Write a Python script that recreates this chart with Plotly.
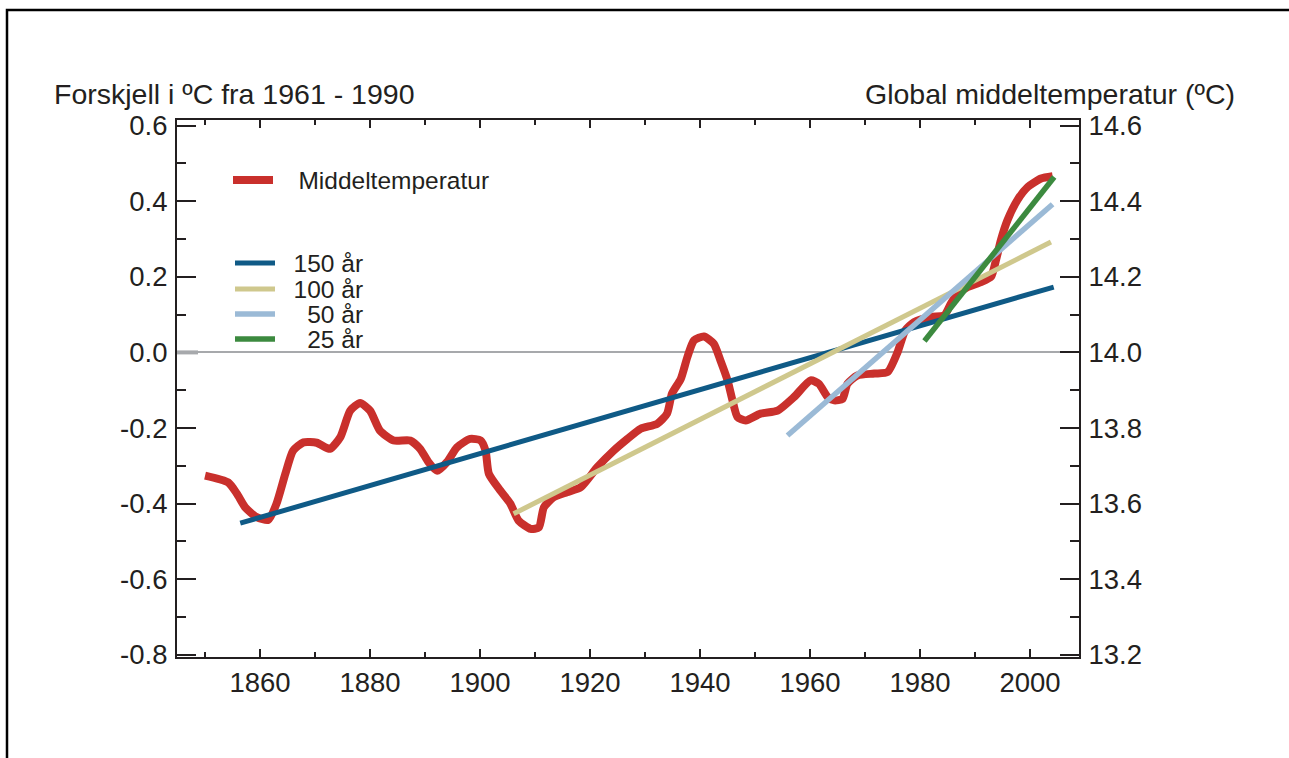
import plotly.graph_objects as go

# ---- data ----
years = [1850.0, 1854.2, 1855.8, 1857.3, 1859.4, 1861.5, 1863.0, 1864.6, 1866.0, 1867.9,
         1870.3, 1872.7, 1874.6, 1876.4, 1878.2, 1880.0, 1881.8, 1884.3, 1887.3, 1889.1,
         1890.6, 1892.2, 1894.0, 1895.8, 1898.2, 1900.1, 1901.0, 1901.6, 1903.7, 1905.5,
         1907.0, 1909.2, 1910.7, 1911.6, 1913.4, 1915.8, 1918.3, 1921.3, 1924.3, 1926.8,
         1929.2, 1932.2, 1934.0, 1934.9, 1936.5, 1937.7, 1938.9, 1940.7, 1942.5, 1943.7,
         1945.0, 1945.9, 1946.8, 1948.3, 1951.0, 1954.1, 1957.1, 1960.1, 1961.6, 1963.2,
         1964.4, 1965.9, 1966.8, 1968.6, 1971.7, 1974.1, 1975.9, 1977.3, 1978.9, 1982.0,
         1984.4, 1985.6, 1986.8, 1988.7, 1991.1, 1992.9, 1993.8, 1994.7, 1995.9, 1997.7,
         1999.6, 2002.0, 2004.1]
anomaly = [-0.326, -0.344, -0.374, -0.410, -0.436, -0.443, -0.400, -0.321, -0.260, -0.238,
           -0.239, -0.255, -0.224, -0.154, -0.134, -0.154, -0.207, -0.233, -0.233, -0.255,
           -0.290, -0.313, -0.290, -0.251, -0.229, -0.233, -0.260, -0.321, -0.366, -0.400,
           -0.445, -0.467, -0.463, -0.410, -0.383, -0.370, -0.357, -0.304, -0.260, -0.229,
           -0.202, -0.189, -0.162, -0.109, -0.070, -0.012, 0.032, 0.042, 0.023, -0.021,
           -0.074, -0.127, -0.171, -0.180, -0.162, -0.154, -0.118, -0.074, -0.083, -0.118,
           -0.127, -0.123, -0.083, -0.061, -0.056, -0.052, 0.000, 0.058, 0.080, 0.094,
           0.098, 0.129, 0.155, 0.173, 0.186, 0.200, 0.244, 0.297, 0.350, 0.403,
           0.438, 0.460, 0.466]

trend_names = ["150 år", "100 år", "50 år", "25 år"]
trend_years = [[1856.4, 2004.3], [1906.1, 2003.8], [1955.9, 2004.1], [1980.8, 2004.4]]
trend_values = [[-0.452, 0.173], [-0.427, 0.292], [-0.220, 0.392], [0.030, 0.464]]

baseline_temp = 14.0  # global mean temperature (°C) corresponding to anomaly 0

x_tickvals = [1860, 1880, 1900, 1920, 1940, 1960, 1980, 2000]
x_ticktext = ["1860", "1880", "1900", "1920", "1940", "1960", "1980", "2000"]
y_tickvals = [-0.8, -0.6, -0.4, -0.2, 0.0, 0.2, 0.4, 0.6]
y_ticktext = ["-0.8", "-0.6", "-0.4", "-0.2", "0.0", "0.2", "0.4", "0.6"]
y2_tickvals = [13.2, 13.4, 13.6, 13.8, 14.0, 14.2, 14.4, 14.6]
y2_ticktext = ["13.2", "13.4", "13.6", "13.8", "14.0", "14.2", "14.4", "14.6"]

left_title = "Forskjell i ºC fra 1961 - 1990"
right_title = "Global middeltemperatur (ºC)"
series_name = "Middeltemperatur"

# ---- styles ----
FONT = "Liberation Sans, Arial, sans-serif"
INK = "#231f20"
red = "#c9302c"
trend_colors = ["#0f5a86", "#cfc88d", "#9bbad6", "#3c8a3f"]
trend_widths = [5, 5, 5.5, 5.5]
NB = "\u00a0"
legend_pad = [2, 2, 4, 4]

x_range = [1844.9, 2008.9]
y_range = [-0.806, 0.615]

fig = go.Figure()

fig.add_trace(go.Scatter(
    x=years, y=anomaly, mode="lines", name=NB * 3 + series_name,
    line=dict(color=red, width=8, shape="spline", smoothing=0.6),
    legend="legend", hoverinfo="skip"))

legend_ids = ["legend2", "legend3", "legend4", "legend5"]
for i in range(4):
    fig.add_trace(go.Scatter(
        x=trend_years[i], y=trend_values[i], mode="lines",
        name=NB * legend_pad[i] + trend_names[i],
        line=dict(color=trend_colors[i], width=trend_widths[i]),
        legend=legend_ids[i], hoverinfo="skip"))

# invisible trace to activate right axis
fig.add_trace(go.Scatter(x=[None], y=[None], yaxis="y2", showlegend=False, hoverinfo="skip"))

L, R, T, B = 177, 210, 120, 101
W, H = 1289, 758
pw, ph = W - L - R, H - T - B

def px_x(p):
    return (p - L) / pw

def px_y(p):
    return (H - B - p) / ph

legend_common = dict(font=dict(family=FONT, size=24.5, color=INK), bgcolor="rgba(0,0,0,0)",
                     borderwidth=0, xanchor="left", yanchor="middle", itemwidth=40)

tick_font = dict(family=FONT, size=27.5, color=INK)

fig.update_layout(
    width=W, height=H,
    margin=dict(l=L, r=R, t=T, b=B, pad=0),
    paper_bgcolor="white", plot_bgcolor="white",
    font=dict(family=FONT, color=INK),
    showlegend=True,
    legend=dict(x=px_x(228), y=px_y(180), **legend_common),
    legend2=dict(x=px_x(230), y=px_y(263), **legend_common),
    legend3=dict(x=px_x(230), y=px_y(289), **legend_common),
    legend4=dict(x=px_x(230), y=px_y(314), **legend_common),
    legend5=dict(x=px_x(230), y=px_y(339), **legend_common),
    xaxis=dict(range=x_range, showgrid=False, zeroline=False,
               showline=True, linecolor=INK, linewidth=2, mirror="ticks",
               ticks="inside", ticklen=8, tickwidth=2, tickcolor=INK,
               tickmode="array", tickvals=x_tickvals, ticktext=x_ticktext,
               tickfont=tick_font,
               minor=dict(ticks="inside", ticklen=5, tickwidth=2, tickcolor=INK,
                          dtick=10, tick0=1850, showgrid=False)),
    yaxis=dict(range=y_range, showgrid=False,
               zeroline=True, zerolinecolor="#a7a9ac", zerolinewidth=2,
               showline=True, linecolor=INK, linewidth=2,
               ticks="inside", ticklen=19, tickwidth=2, tickcolor=INK,
               tickmode="array", tickvals=y_tickvals, ticktext=y_ticktext,
               ticklabelstandoff=2,
               tickfont=tick_font,
               minor=dict(ticks="inside", ticklen=9, tickwidth=2, tickcolor=INK,
                          dtick=0.1, tick0=0, showgrid=False)),
    yaxis2=dict(range=[y_range[0] + baseline_temp, y_range[1] + baseline_temp],
                overlaying="y", side="right", showgrid=False, zeroline=False,
                showline=True, linecolor=INK, linewidth=2,
                ticks="inside", ticklen=19, tickwidth=2, tickcolor=INK,
                tickmode="array", tickvals=y2_tickvals, ticktext=y2_ticktext,
                ticklabelstandoff=2,
                tickfont=tick_font,
                minor=dict(ticks="inside", ticklen=9, tickwidth=2, tickcolor=INK,
                           dtick=0.1, tick0=0, showgrid=False)),
    annotations=[
        dict(text=left_title, xref="paper", yref="paper", x=px_x(52), y=px_y(94),
             xanchor="left", yanchor="middle", showarrow=False,
             font=dict(family=FONT, size=28.5, color=INK)),
        dict(text=right_title, xref="paper", yref="paper", x=px_x(1237), y=px_y(94),
             xanchor="right", yanchor="middle", showarrow=False,
             font=dict(family=FONT, size=28.5, color=INK)),
    ],
    shapes=[
        dict(type="rect", xref="paper", yref="paper", x0=px_x(7), x1=px_x(1320),
             y0=px_y(800), y1=px_y(10), line=dict(color="black", width=2.5),
             fillcolor="rgba(0,0,0,0)", layer="below"),
        dict(type="line", xref="paper", yref="y", x0=0, x1=px_x(198), y0=0, y1=0,
             line=dict(color="#a7a9ac", width=4), layer="above"),
    ],
)

fig.write_html("out.html", config={"displayModeBar": False},
               post_script="document.body.style.margin='0';document.body.style.overflow='hidden';")
